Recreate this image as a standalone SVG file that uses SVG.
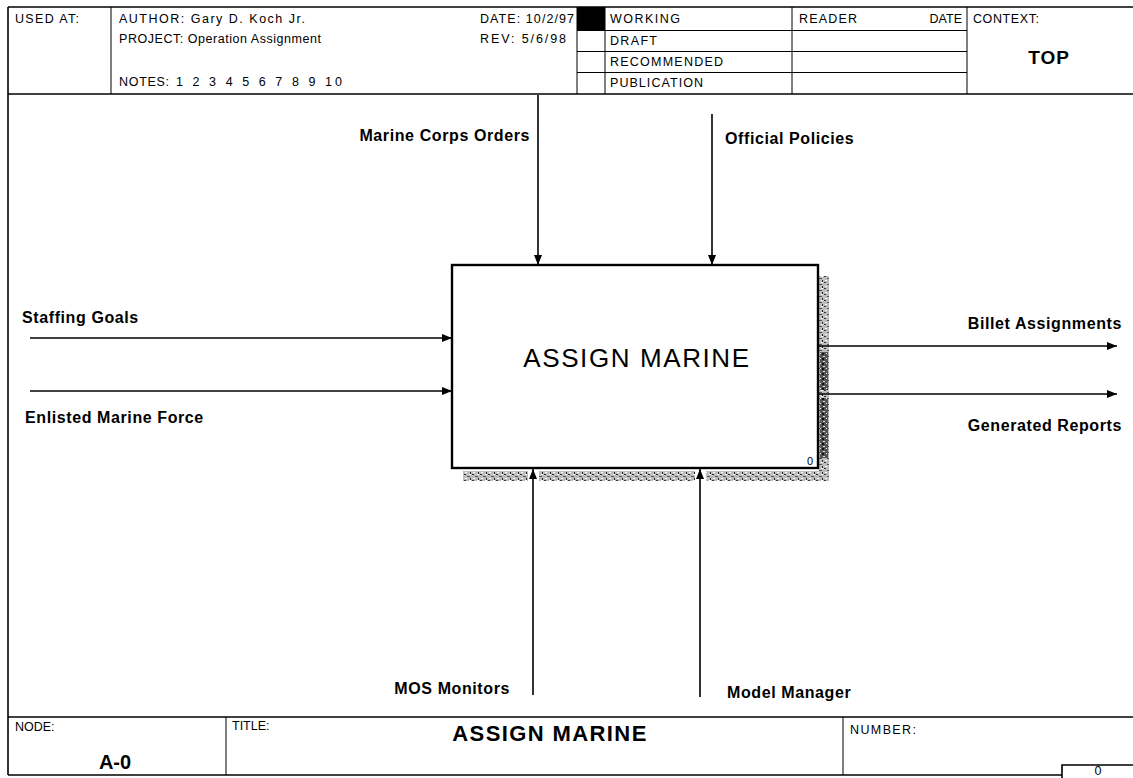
<svg xmlns="http://www.w3.org/2000/svg" width="1133" height="778" viewBox="0 0 1133 778">
<style>
.frame{stroke:#000;stroke-width:1.6;fill:none}
.thin{stroke:#000;stroke-width:1;fill:none}
.hd{font-family:"Liberation Sans",Arial,sans-serif;font-size:12.5px;fill:#000}
.lbl{font-family:"Liberation Sans",Arial,sans-serif;font-size:16px;font-weight:bold;fill:#000;letter-spacing:0.6px}
.big{font-family:"Liberation Sans",Arial,sans-serif;font-weight:bold;fill:#000}
.arrow{stroke:#000;stroke-width:1.6;fill:none;marker-end:url(#ah)}
</style>
<defs>
<marker id="ah" viewBox="0 0 10 8" refX="10" refY="4" markerWidth="10" markerHeight="8" markerUnits="userSpaceOnUse" orient="auto">
<path d="M0,0 L10,4 L0,8 z" fill="#000"/>
</marker>
<pattern id="grain" width="8" height="6" patternUnits="userSpaceOnUse">
<rect width="8" height="6" fill="#bdbdbd"/>
<rect x="0" y="0" width="2" height="1" fill="#333"/>
<rect x="3" y="2" width="3" height="1" fill="#555"/>
<rect x="6" y="4" width="1" height="2" fill="#222"/>
<rect x="1" y="4" width="2" height="1" fill="#fff"/>
<rect x="5" y="0" width="2" height="1" fill="#fff"/>
</pattern>
<pattern id="grainDark" width="6" height="5" patternUnits="userSpaceOnUse">
<rect width="6" height="5" fill="#555"/>
<rect x="1" y="1" width="2" height="1" fill="#ddd"/>
<rect x="4" y="3" width="1" height="1" fill="#eee"/>
<rect x="0" y="3" width="2" height="2" fill="#111"/>
</pattern>
</defs>
<rect width="1133" height="778" fill="#fff"/>

<g id="frame">
<line class="frame" x1="8" y1="7" x2="1133" y2="7"/>
<line class="frame" x1="8" y1="7" x2="8" y2="775"/>
<line class="frame" x1="8" y1="94" x2="1133" y2="94"/>
<line class="frame" x1="8" y1="717" x2="1133" y2="717"/>
<line class="frame" x1="8" y1="775" x2="1062" y2="775"/>
</g>

<g id="header">
<line class="thin" x1="111" y1="7" x2="111" y2="94"/>
<line class="thin" x1="577" y1="7" x2="577" y2="94"/>
<line class="thin" x1="605" y1="7" x2="605" y2="94"/>
<line class="thin" x1="792" y1="7" x2="792" y2="94"/>
<line class="thin" x1="967" y1="7" x2="967" y2="94"/>
<line class="thin" x1="577" y1="30.5" x2="967" y2="30.5"/>
<line class="thin" x1="577" y1="51.5" x2="967" y2="51.5"/>
<line class="thin" x1="577" y1="72.5" x2="967" y2="72.5"/>
<rect x="577" y="7" width="28" height="23.5" fill="#000"/>
<text class="hd" x="15" y="23" textLength="64" lengthAdjust="spacing">USED AT:</text>
<text class="hd" x="119" y="23" textLength="186" lengthAdjust="spacing">AUTHOR:  Gary D. Koch Jr.</text>
<text class="hd" x="119" y="43" textLength="202" lengthAdjust="spacing">PROJECT:  Operation Assignment</text>
<text class="hd" x="119" y="86" textLength="50" lengthAdjust="spacing">NOTES:</text>
<text class="hd" x="176" y="86" textLength="166" lengthAdjust="spacing">1  2  3  4  5  6  7  8  9  10</text>
<text class="hd" x="480" y="23" textLength="94" lengthAdjust="spacing">DATE:  10/2/97</text>
<text class="hd" x="480" y="43" textLength="86" lengthAdjust="spacing">REV:   5/6/98</text>
<text class="hd" x="610" y="23" textLength="70" lengthAdjust="spacing">WORKING</text>
<text class="hd" x="610" y="45" textLength="47" lengthAdjust="spacing">DRAFT</text>
<text class="hd" x="610" y="66" textLength="113" lengthAdjust="spacing">RECOMMENDED</text>
<text class="hd" x="610" y="87" textLength="93" lengthAdjust="spacing">PUBLICATION</text>
<text class="hd" x="799" y="23" textLength="58" lengthAdjust="spacing">READER</text>
<text class="hd" x="962" y="23" text-anchor="end">DATE</text>
<text class="hd" x="973" y="23" textLength="66" lengthAdjust="spacing">CONTEXT:</text>
<text class="big" x="1049" y="64" text-anchor="middle" font-size="19" letter-spacing="1">TOP</text>
</g>

<g id="node-A0">
<rect x="463" y="471" width="366" height="10" fill="url(#grain)"/>
<rect x="819" y="276" width="10" height="205" fill="url(#grain)"/>
<rect x="820" y="352" width="8" height="38" fill="url(#grainDark)"/>
<rect x="820" y="398" width="8" height="60" fill="url(#grainDark)"/>
<rect x="528" y="470" width="11" height="12" fill="#fff"/>
<rect x="695" y="470" width="11" height="12" fill="#fff"/>
<rect x="452" y="265" width="366" height="203" fill="#fff" stroke="#000" stroke-width="2.4"/>
<text x="637" y="367" text-anchor="middle" font-family="'Liberation Sans',Arial,sans-serif" font-size="26" letter-spacing="1.6" fill="#000">ASSIGN MARINE</text>
<text x="810" y="465" text-anchor="middle" font-family="'Liberation Sans',Arial,sans-serif" font-size="11" fill="#000">0</text>
</g>

<g id="connectors">
<line class="arrow" x1="538" y1="95" x2="538" y2="265"/>
<line class="arrow" x1="712" y1="114" x2="712" y2="265"/>
<line class="arrow" x1="30" y1="338" x2="452" y2="338"/>
<line class="arrow" x1="30" y1="391" x2="452" y2="391"/>
<line class="arrow" x1="818" y1="346" x2="1117" y2="346"/>
<line class="arrow" x1="818" y1="394" x2="1117" y2="394"/>
<line class="arrow" x1="533" y1="695" x2="533" y2="469"/>
<line class="arrow" x1="700" y1="697" x2="700" y2="469"/>
</g>

<g id="labels">
<text class="lbl" x="530" y="141" text-anchor="end">Marine Corps Orders</text>
<text class="lbl" x="725" y="144">Official Policies</text>
<text class="lbl" x="22" y="323">Staffing Goals</text>
<text class="lbl" x="25" y="423">Enlisted Marine Force</text>
<text class="lbl" x="1122" y="329" text-anchor="end">Billet Assignments</text>
<text class="lbl" x="1122" y="431" text-anchor="end">Generated Reports</text>
<text class="lbl" x="510" y="694" text-anchor="end">MOS Monitors</text>
<text class="lbl" x="727" y="698">Model Manager</text>
</g>

<g id="footer">
<line class="thin" x1="226" y1="717" x2="226" y2="775"/>
<line class="thin" x1="843" y1="717" x2="843" y2="775"/>
<text class="hd" x="15" y="731" font-size="11.5">NODE:</text>
<text class="big" x="115" y="769" text-anchor="middle" font-size="20">A-0</text>
<text class="hd" x="232" y="730" font-size="10.5">TITLE:</text>
<text class="big" x="550" y="741" text-anchor="middle" font-size="22" letter-spacing="1.4">ASSIGN MARINE</text>
<text class="hd" x="850" y="734" font-size="11.5" textLength="66" lengthAdjust="spacing">NUMBER:</text>
<polyline points="1062,778 1062,765 1133,765" fill="none" stroke="#000" stroke-width="1.6"/>
<text class="hd" x="1098" y="775" text-anchor="middle" font-size="10">0</text>
</g>
</svg>
